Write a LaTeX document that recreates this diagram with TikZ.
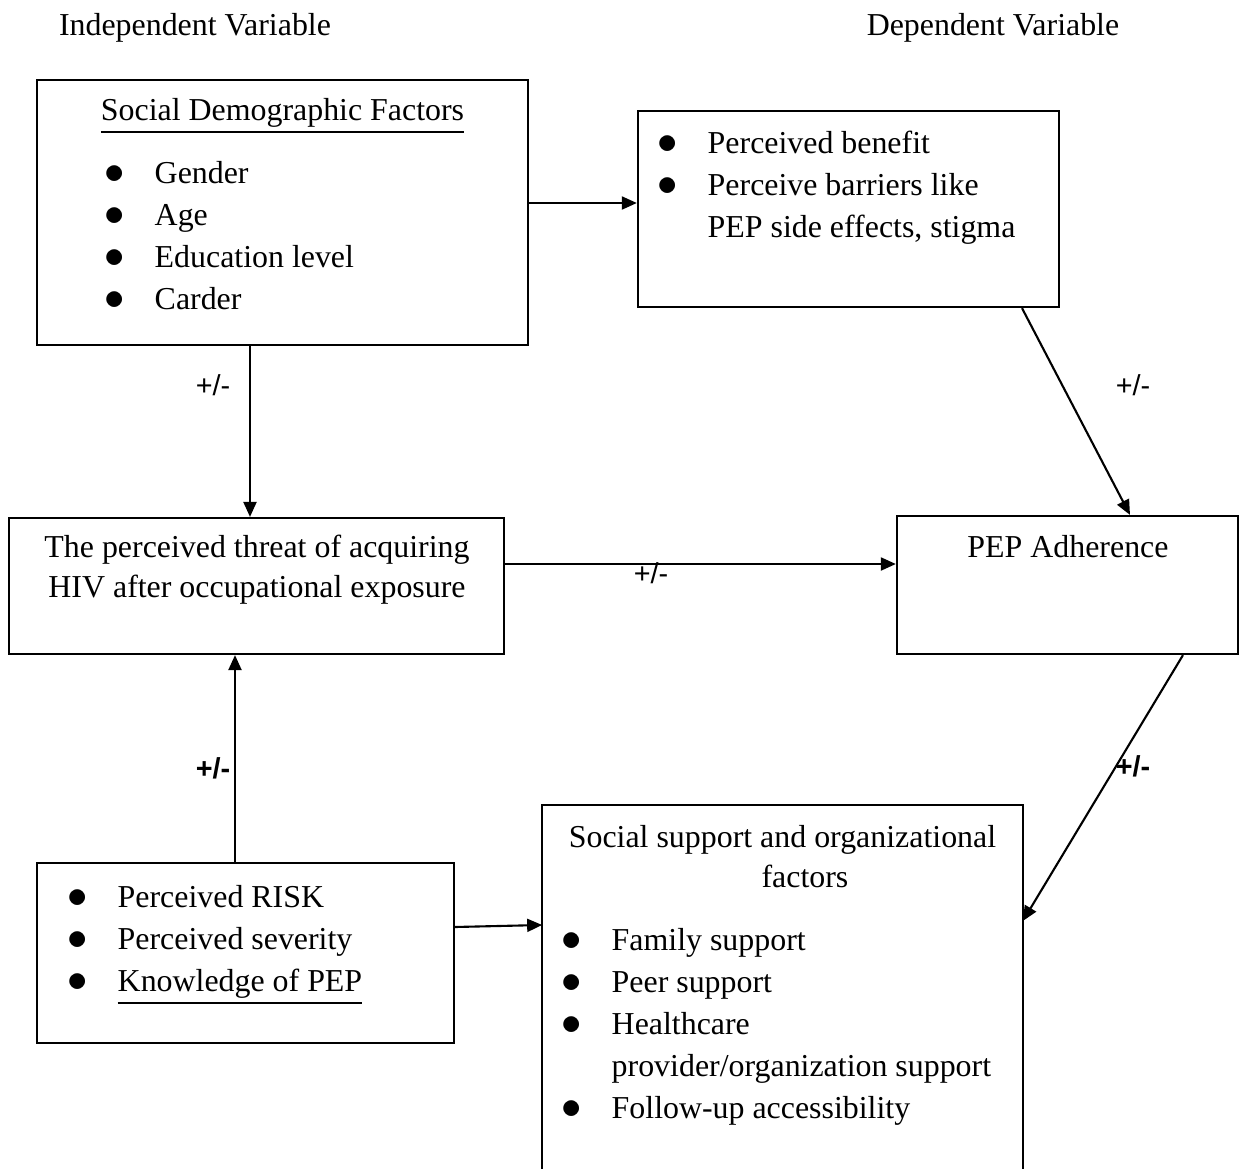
\documentclass[tikz,border=0pt]{standalone}
\usepackage{fontspec}
\setmainfont{Liberation Serif}
\newfontfamily\signfont{Liberation Sans}
\usetikzlibrary{arrows.meta,calc}
\newcommand{\bl}{\makebox[0.16cm]{\scalebox{1.25}{$\bullet$}}}
\newcommand{\blist}[1]{\begin{tabular}[t]{@{}l@{\hspace{0.32cm}}l@{}}#1\end{tabular}}

\begin{document}
\begin{tikzpicture}[
    x=0.01cm,y=-0.01cm,
    font=\fontsize{9.07}{11.95}\selectfont,
    box/.style={draw,line width=0.6pt,inner sep=0pt},
    txt/.style={inner sep=0pt,anchor=base},
    lst/.style={inner sep=0pt,anchor=base west},
    sign/.style={inner sep=0pt,font=\signfont\fontsize{8.2}{10}\selectfont},
    bsign/.style={sign,font=\signfont\bfseries\fontsize{8.2}{10}\selectfont},
    arr/.style={line width=0.6pt,-{Triangle[length=0.15cm,width=0.13cm]}},
    ]
    \useasboundingbox (0,0) rectangle (1241,1169);

    % headings
    \node[txt] (indep) at (195,35) {Independent Variable};
    \node[txt] (dep)   at (993,35) {Dependent Variable};

    % boxes
    \node[box,minimum width=4.91cm,minimum height=2.65cm] (sd)     at (282.5,212.5) {};
    \node[box,minimum width=4.21cm,minimum height=1.96cm] (pb)     at (848.5,209) {};
    \node[box,minimum width=4.95cm,minimum height=1.36cm] (threat) at (256.5,586) {};
    \node[box,minimum width=3.41cm,minimum height=1.38cm] (pep)    at (1067.5,585) {};
    \node[box,minimum width=4.17cm,minimum height=1.80cm] (risk)   at (245.5,953) {};
    \node[inner sep=0pt,minimum width=4.79cm,minimum height=3.63cm] (ss) at (782.5,987.5) {};
    \draw[line width=0.6pt] (ss.south west) -- (ss.north west) -- (ss.north east) -- (ss.south east);

    % box texts
    \node[txt] (sdtitle) at (282.5,120) {\underline{Social Demographic Factors}};
    \node[lst] (sdlist) at (106,183) {\blist{\bl & Gender\\ \bl & Age\\ \bl & Education level\\ \bl & Carder}};
    \node[lst] (pblist) at (659,153) {\blist{\bl & Perceived benefit\\ \bl & Perceive barriers like\\ & PEP side effects, stigma}};
    \node[txt] (threat1) at (257,557) {The perceived threat of acquiring};
    \node[txt] (threat2) at (257,597) {HIV after occupational exposure};
    \node[txt] (peptxt) at (1068,557) {PEP Adherence};
    \node[lst] (risklist) at (69,907) {\blist{\bl & Perceived RISK\\ \bl & Perceived severity\\ \bl & \underline{Knowledge of PEP}}};
    \node[txt] (sstitle1) at (782.5,847) {Social support and organizational};
    \node[txt] (sstitle2) at (805,887) {factors};
    \node[lst] (sslist) at (563,950) {\blist{\bl & Family support\\ \bl & Peer support\\ \bl & Healthcare\\ & provider/organization support\\ \bl & Follow-up accessibility}};

    % connectors
    \draw[arr] ($(sd.east)+(0,-9.5)$) -- ($(pb.west)+(0,-6)$);
    \draw[arr] ($(sd.south)+(-32.5,0)$) -- ($(threat.north)+(-6.5,0)$);
    \draw[arr] ($(pb.south)+(173.5,0)$) -- ($(pep.north)+(62.5,0)$);
    \draw[arr] ($(threat.east)+(0,-22)$) -- ($(pep.west)+(0,-21)$);
    \draw[arr] ($(risk.north)+(-10.5,0)$) -- ($(threat.south)+(-21.5,0)$);
    \draw[arr] ($(risk.east)+(0,-26)$) -- ($(ss.west)+(0,-62.5)$);
    \draw[arr] ($(pep.south)+(115.5,0)$) -- ($(ss.east)+(0,-66.5)$);

    % signs
    \node[sign]  (s1) at (213,385) {+/-};
    \node[sign]  (s2) at (1133,385) {+/-};
    \node[sign]  (s3) at (651,573) {+/-};
    \node[bsign] (s4) at (213,768) {+/-};
    \node[bsign] (s5) at (1133,766) {+/-};
\end{tikzpicture}
\end{document}
